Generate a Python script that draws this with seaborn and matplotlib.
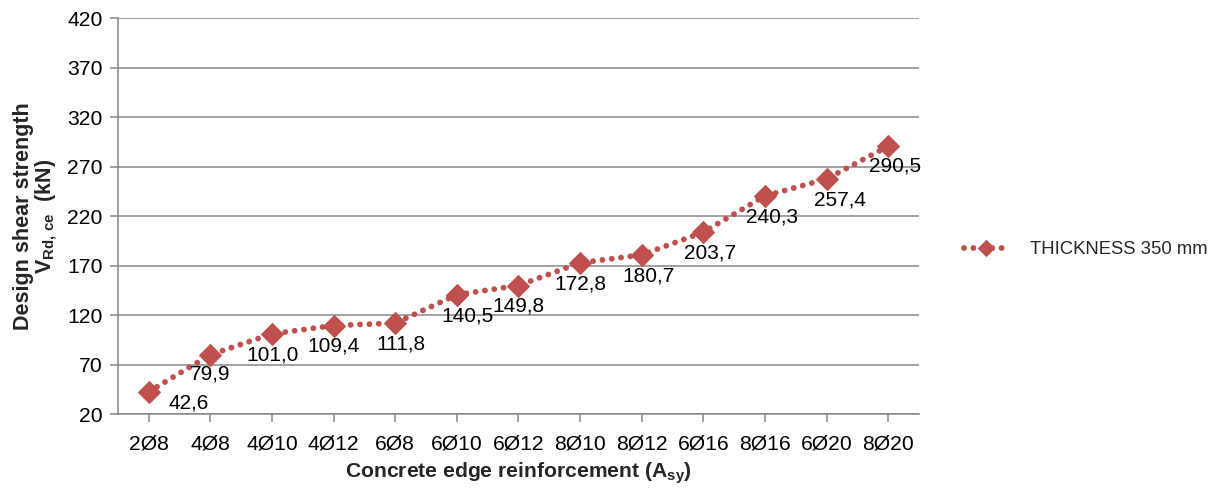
import matplotlib
matplotlib.use("Agg")
import matplotlib.pyplot as plt
from matplotlib.legend_handler import HandlerLine2D
import seaborn as sns
import pandas as pd

# data
categories = ["2Ø8", "4Ø8", "4Ø10", "4Ø12", "6Ø8", "6Ø10", "6Ø12",
              "8Ø10", "8Ø12", "6Ø16", "8Ø16", "6Ø20", "8Ø20"]
strength = [42.6, 79.9, 101.0, 109.4, 111.8, 140.5, 149.8,
            172.8, 180.7, 203.7, 240.3, 257.4, 290.5]
label_dx = [29, 0, 0, 0, 4, 8, 0, 0, 5, 5, 5, 10, 5]
label_dy = [-8, -14, -15, -15, -15, -15, -15, -15, -15, -15, -15, -15, -14]
yticks = list(range(20, 421, 50))


class EndMarkerHandler(HandlerLine2D):
    # Excel-style legend key: dotted line with a smaller marker at its right end
    def get_xdata(self, legend, xdescent, ydescent, width, height, fontsize):
        xdata, _ = super().get_xdata(legend, xdescent, ydescent,
                                     width, height, fontsize)
        return xdata, [xdata[-1]]

    def create_artists(self, *args, **kwargs):
        artists = super().create_artists(*args, **kwargs)
        artists[-1].set_markersize(8)
        return artists


sns.set_theme(style="white")
plt.rcParams["font.family"] = ["Liberation Sans", "DejaVu Sans"]
plt.rcParams["mathtext.fontset"] = "custom"
plt.rcParams["mathtext.rm"] = "Liberation Sans"
plt.rcParams["mathtext.bf"] = "Liberation Sans:bold"
plt.rcParams["mathtext.it"] = "Liberation Sans:italic"

red = "#C0504D"
grey = "#868686"

df = pd.DataFrame({"reinforcement": categories, "VRd": strength})

fig = plt.figure(figsize=(12.22, 4.88), dpi=100)
ax = fig.add_axes([0.0966, 0.1516, 0.6554, 0.8115])

sns.lineplot(data=df, x="reinforcement", y="VRd", sort=False, ax=ax,
             color=red, lw=4.2, linestyle=(0, (0.01, 1.6)),
             dash_capstyle="round", marker="D", markersize=11,
             markeredgecolor=red, label="THICKNESS 350 mm")

for i, (v, dx, dy) in enumerate(zip(strength, label_dx, label_dy)):
    ax.annotate(f"{v:.1f}".replace(".", ","), (i, v), xytext=(dx, dy),
                textcoords="offset points", ha="center", va="center",
                fontsize=15, color="black")

ax.set_xlim(-0.5, len(categories) - 0.5)
ax.set_ylim(20, 420)
ax.set_yticks(yticks)
ax.yaxis.grid(True, color=grey, lw=1.1)
ax.set_axisbelow(True)
for s in ["top", "right"]:
    ax.spines[s].set_visible(False)
for s in ["left", "bottom"]:
    ax.spines[s].set_color(grey)
    ax.spines[s].set_linewidth(1.1)
ax.tick_params(axis="both", which="both", direction="out", length=6,
               width=1.1, color=grey, labelsize=15.2, labelcolor="black",
               left=True, bottom=True)
ax.tick_params(axis="x", pad=9)
ax.tick_params(axis="y", pad=5)

ax.set_xlabel(r"Concrete edge reinforcement (A$_{\mathbf{sy}}$)",
              fontsize=15.2, fontweight="bold", labelpad=5)
ax.set_ylabel("Design shear strength\n" + r"$\mathbf{V_{Rd,\,ce}}$  (kN)",
              fontsize=15.5, fontweight="bold", labelpad=6, linespacing=0.95)

ax.legend(loc="center left", bbox_to_anchor=(0.775, 0.488),
          bbox_transform=fig.transFigure, frameon=False, fontsize=13.3,
          handlelength=2.4, handletextpad=1.2,
          handler_map={matplotlib.lines.Line2D: EndMarkerHandler()})

fig.savefig("out.png", dpi=100)
